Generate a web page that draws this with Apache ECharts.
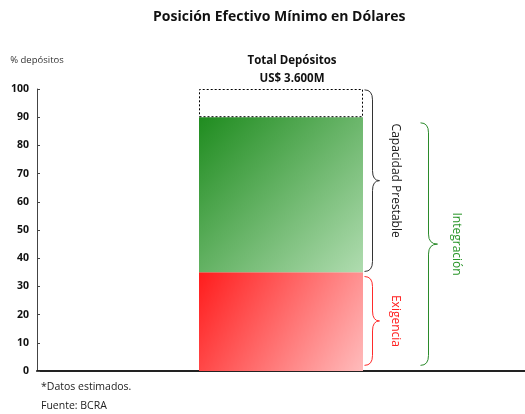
<!DOCTYPE html>
<html>
<head>
<meta charset="utf-8">
<script src="https://cdn.jsdelivr.net/npm/echarts@6/dist/echarts.min.js"></script>
<style>html,body{margin:0;padding:0;background:#fff}#c{width:525px;height:414px}</style>
</head>
<body>
<div id="c"></div>
<script>
// ---- data ----
var categories = ['', 'Total', ''];
var exigencia = [null, 35, null];
var capacidadPrestable = [null, 55, null];
var sinAsignar = [null, 10, null];
var yTicks = [0, 10, 20, 30, 40, 50, 60, 70, 80, 90, 100];
var braceNames = ['Capacidad Prestable', 'Exigencia', 'Integración'];
var braceLow = [35.3, 2, 2];
var braceHigh = [99.7, 33.5, 88];
var totalLabel = ['Total Depósitos', 'US$ 3.600M'];

var FONT = 'Open Sans';
var BAR_W = 164;
var braceStyle = [
  {color: '#333333', textColor: '#1a1a1a', off: 9, w: 8, tip: 7, textOff: 23},
  {color: '#ff2b2b', textColor: '#ff2020', off: 9, w: 8, tip: 7, textOff: 23},
  {color: '#2a8a2a', textColor: '#2a962a', off: 65, w: 8, tip: 9, textOff: 28}
];

function bracePath(x, y1, y2, w, tip) {
  var r = 10, ym = (y1 + y2) / 2;
  return 'M' + (x - w) + ',' + y1 +
    ' Q' + x + ',' + y1 + ' ' + x + ',' + (y1 + r) +
    ' L' + x + ',' + (ym - r) +
    ' Q' + x + ',' + ym + ' ' + (x + tip) + ',' + ym +
    ' Q' + x + ',' + ym + ' ' + x + ',' + (ym + r) +
    ' L' + x + ',' + (y2 - r) +
    ' Q' + x + ',' + y2 + ' ' + (x - w) + ',' + y2;
}

var chart = echarts.init(document.getElementById('c'), null, {renderer: 'canvas'});
var option = {
  animation: false,
  backgroundColor: '#ffffff',
  textStyle: {fontFamily: FONT},
  title: {
    text: 'Posición Efectivo Mínimo en Dólares',
    left: 148, top: 5,
    textStyle: {fontFamily: FONT, fontSize: 14, fontWeight: 'bold', color: '#111'}
  },
  grid: {left: 37, right: -4, top: 89, bottom: 43},
  xAxis: {
    type: 'category', data: categories,
    axisLine: {lineStyle: {color: '#222', width: 2}},
    axisTick: {show: false}, axisLabel: {show: false}
  },
  yAxis: {
    type: 'value', min: 0, max: 100, interval: 10,
    name: '% depósitos', nameLocation: 'end', nameGap: 24,
    nameTextStyle: {fontFamily: FONT, fontSize: 9.5, color: '#333', align: 'center'},
    axisLine: {show: true, lineStyle: {color: '#444', width: 1}},
    axisTick: {show: true, inside: true, length: 3, lineStyle: {color: '#444'}},
    axisLabel: {margin: 8, fontFamily: FONT, fontSize: 10.5, fontWeight: 'bold', color: '#111',
      formatter: function (v) { return yTicks.indexOf(v) >= 0 ? String(v) : ''; }},
    splitLine: {show: false}
  },
  series: [
    {
      type: 'bar', stack: 't', data: exigencia, barWidth: BAR_W,
      itemStyle: {color: {type: 'linear', x: 0, y: 0, x2: 1, y2: 1,
        colorStops: [{offset: 0, color: '#ff1c1c'}, {offset: 1, color: '#ffbcbc'}]}}
    },
    {
      type: 'bar', stack: 't', data: capacidadPrestable, barWidth: BAR_W,
      itemStyle: {color: {type: 'linear', x: 0, y: 0, x2: 1, y2: 1,
        colorStops: [{offset: 0, color: '#1f8c1f'}, {offset: 1, color: '#b0dcb0'}]}}
    },
    {
      type: 'bar', stack: 't', data: sinAsignar, barWidth: BAR_W,
      itemStyle: {color: '#ffffff', borderColor: '#000', borderWidth: 1, borderType: [2, 2]},
      label: {show: true, position: 'top', distance: 1, offset: [11, 0],
        formatter: totalLabel.join('\n'), lineHeight: 18,
        fontFamily: FONT, fontSize: 11.5, fontWeight: 'bold', color: '#111'}
    },
    {
      type: 'custom',
      data: braceNames.map(function (n, i) { return [i, braceLow[i], braceHigh[i]]; }),
      renderItem: function (params, api) {
        var i = api.value(0);
        var st = braceStyle[i];
        var top = api.coord([1, api.value(2)]);
        var bot = api.coord([1, api.value(1)]);
        var x = Math.round(top[0] + BAR_W / 2 + st.off) + 0.5;
        var y1 = top[1], y2 = bot[1];
        return {
          type: 'group',
          children: [
            {type: 'path', shape: {pathData: bracePath(x, y1, y2, st.w, st.tip)},
             style: {fill: null, stroke: st.color, lineWidth: 1}},
            {type: 'text', x: x + st.textOff, y: (y1 + y2) / 2, rotation: -Math.PI / 2,
             style: {text: braceNames[i], fill: st.textColor, fontFamily: FONT, fontSize: 12,
               fontWeight: 'normal', align: 'center', verticalAlign: 'middle'}}
          ]
        };
      }
    }
  ],
  graphic: [
    {type: 'text', left: 41, top: 382, style: {text: '*Datos estimados.', fontFamily: FONT, fontSize: 10.5, fill: '#222'}},
    {type: 'text', left: 41, top: 401, style: {text: 'Fuente: BCRA', fontFamily: FONT, fontSize: 10.5, fill: '#222'}}
  ]
};
chart.setOption(option);
</script>
</body>
</html>
